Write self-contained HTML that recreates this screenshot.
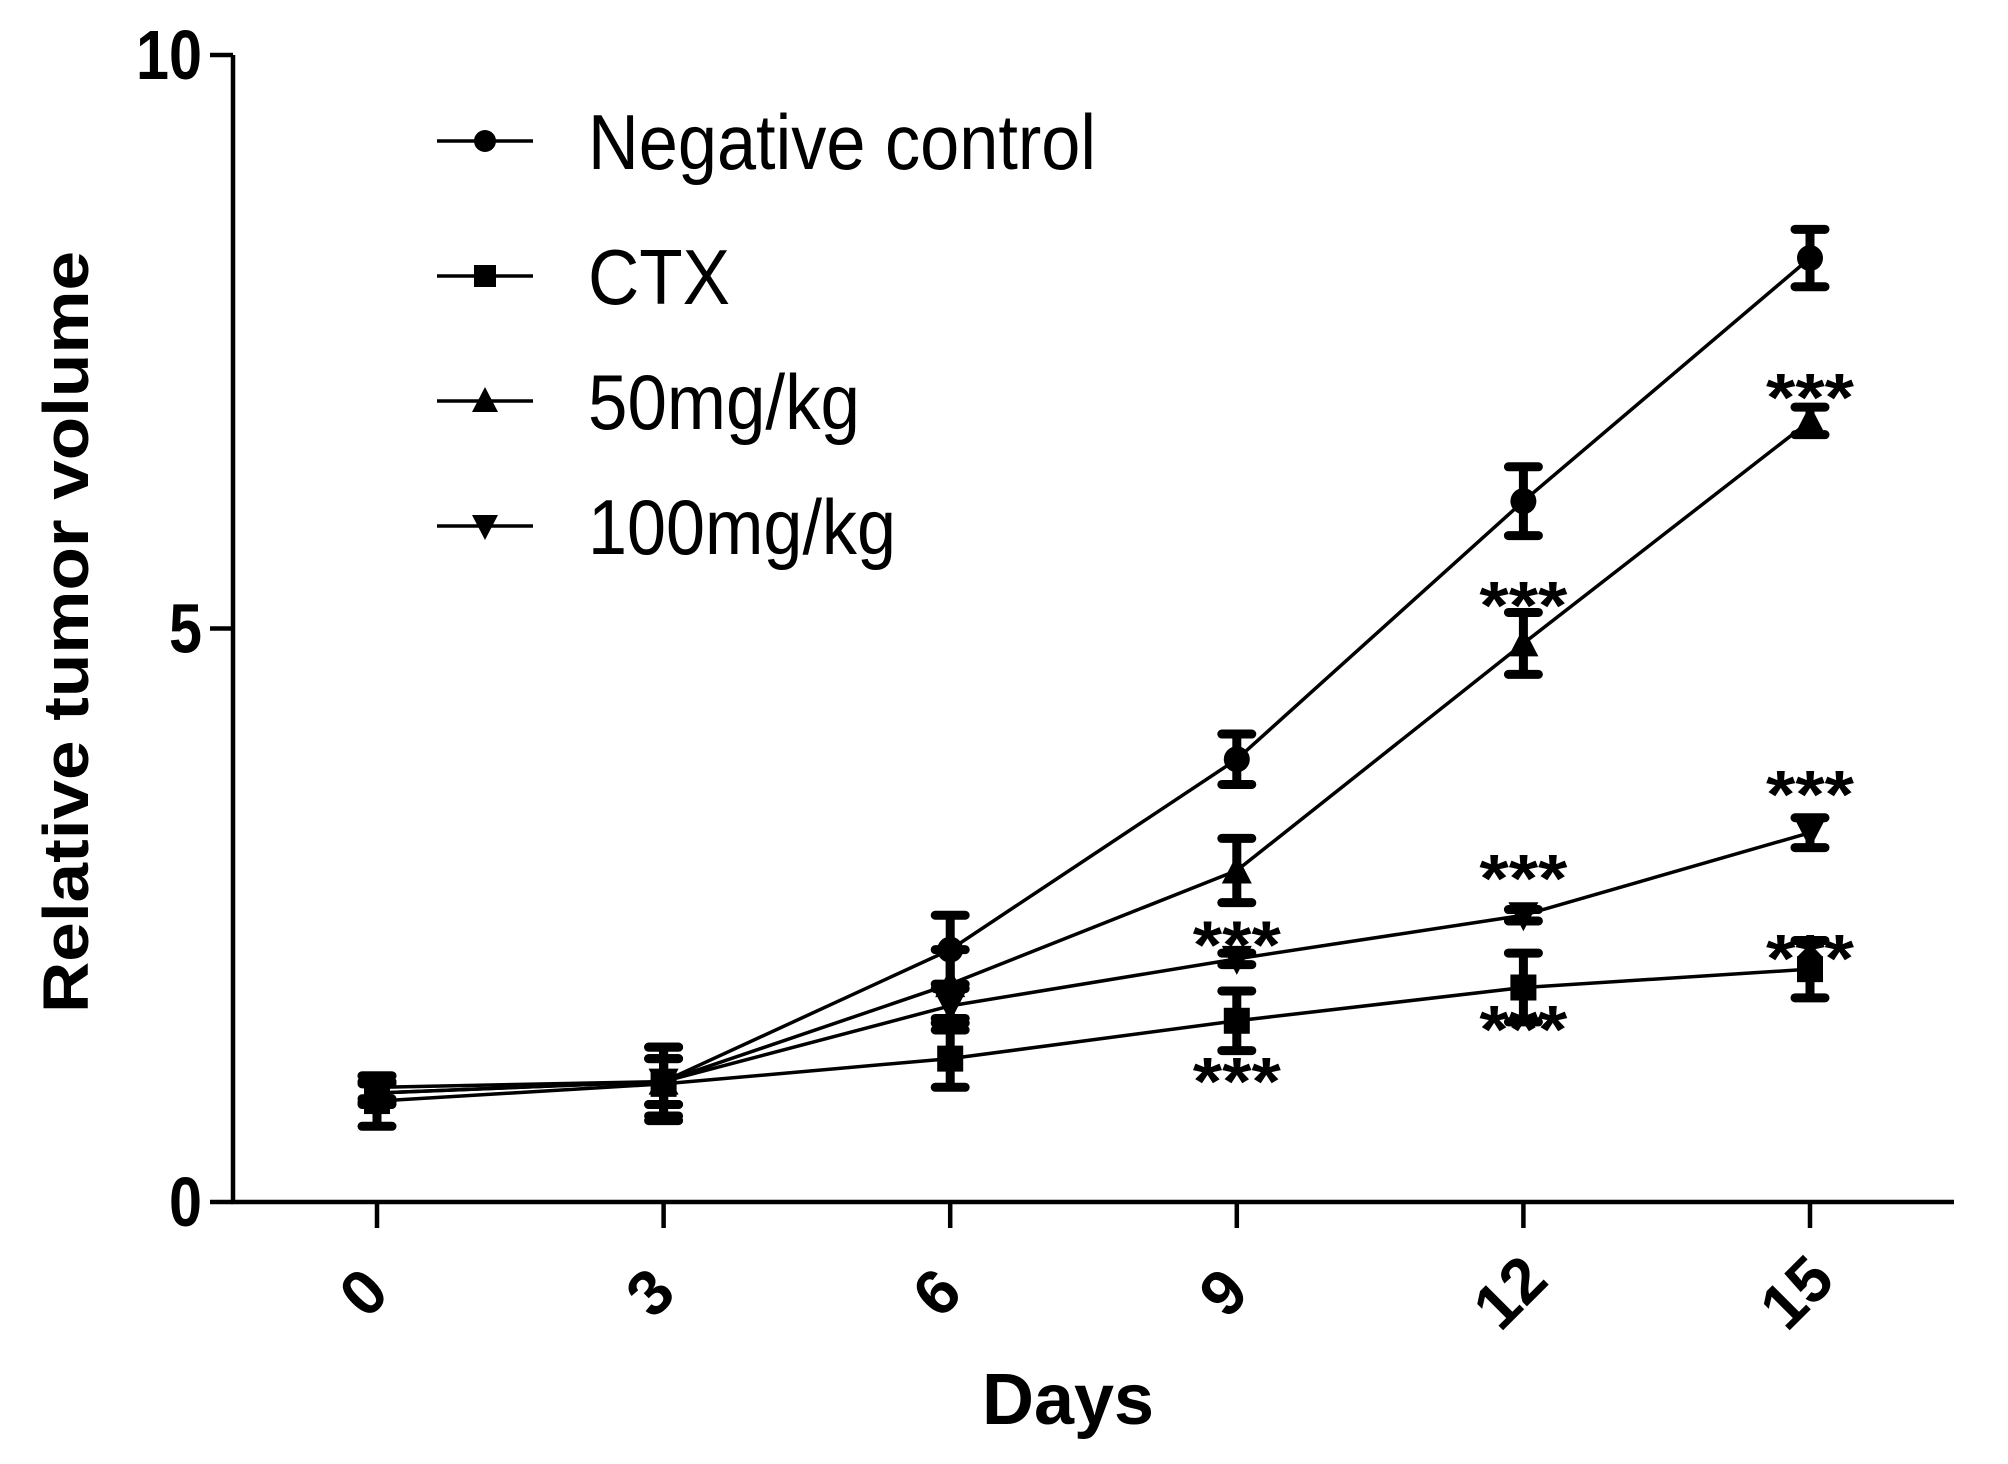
<!DOCTYPE html>
<html><head><meta charset="utf-8">
<style>
html,body{margin:0;padding:0;background:#fff;}
svg{display:block;font-family:"Liberation Sans",Arial,sans-serif;}
</style></head>
<body>
<svg id="chart" width="2008" height="1464" viewBox="0 0 2008 1464" xmlns="http://www.w3.org/2000/svg">
<g id="axes"></g>
<g id="series"></g>
<g id="legend"></g>
<text x="0" y="0" transform="translate(88,632) rotate(-90)" text-anchor="middle" font-size="64" font-weight="bold" textLength="762" lengthAdjust="spacingAndGlyphs">Relative tumor volume</text>
<text x="1068" y="1424" text-anchor="middle" font-size="72" font-weight="bold" textLength="172" lengthAdjust="spacingAndGlyphs">Days</text>
</svg>
<script>
const days = [0, 3, 6, 9, 12, 15];
const xTickLabels = ["0", "3", "6", "9", "12", "15"];
const yTickValues = [0, 5, 10];
const yTickLabels = ["0", "5", "10"];
const seriesNames = ["Negative control", "CTX", "50mg/kg", "100mg/kg"];
const ncMean = [0.95, 1.05, 2.2, 3.86, 6.11, 8.23];
const ncErr = [0.1, 0.3, 0.3, 0.22, 0.3, 0.25];
const ctxMean = [0.88, 1.03, 1.25, 1.58, 1.87, 2.03];
const ctxErr = [0.22, 0.32, 0.25, 0.26, 0.3, 0.25];
const mg50Mean = [1.0, 1.05, 1.9, 2.89, 4.87, 6.81];
const mg50Err = [0.1, 0.2, 0.3, 0.28, 0.27, 0.12];
const mg100Mean = [0.95, 1.05, 1.71, 2.12, 2.5, 3.22];
const mg100Err = [0.08, 0.2, 0.15, 0.05, 0.05, 0.13];
const starSeries = ["50mg/kg", "50mg/kg", "100mg/kg", "100mg/kg", "100mg/kg", "CTX", "CTX", "CTX"];
const starDays = [15, 12, 15, 12, 9, 15, 12, 9];
const starValues = [7.16, 5.35, 3.70, 2.97, 2.39, 2.27, 1.65, 1.20];

const NS = "http://www.w3.org/2000/svg";
const X0 = 377, XSTEP = 286.6 / 3, Y0 = 1202, YUNIT = 114.7;
const AXL = 233, AXR = 1954;
function xs(d){ return X0 + d * XSTEP; }
function ys(v){ return Y0 - v * YUNIT; }
function mk(tag, attrs, parent){
  const e = document.createElementNS(NS, tag);
  for (const k in attrs) e.setAttribute(k, attrs[k]);
  parent.appendChild(e);
  return e;
}
const axes = document.getElementById("axes");
const yAxis = mk("line", {x1:AXL, y1:ys(10), x2:AXL, y2:Y0, stroke:"#000", "stroke-width":4.5}, axes);


const xAxis = mk("line", {x1:AXL-2, y1:Y0, x2:AXR, y2:Y0, stroke:"#000", "stroke-width":4.5}, axes);


yTickValues.forEach((v, i) => {
  const t = mk("line", {x1:AXL-23, y1:ys(v), x2:AXL, y2:ys(v), stroke:"#000", "stroke-width":4.5}, axes);
  
  
  const l = mk("text", {x:202, y:ys(v)+24, "text-anchor":"end", "font-size":70, "font-weight":"bold", textLength:(yTickLabels[i].length*33), lengthAdjust:"spacingAndGlyphs"}, axes);
  l.textContent = yTickLabels[i];
  
  
});
days.forEach((d, i) => {
  const t = mk("line", {x1:xs(d), y1:Y0, x2:xs(d), y2:Y0+26, stroke:"#000", "stroke-width":4.5}, axes);
  
  
  const l = mk("text", {x:0, y:0, "text-anchor":"middle", "font-size":64, "font-weight":"bold",
    transform:"translate(" + (xs(d)+2) + "," + (Y0+106) + ") rotate(-45)"}, axes);
  l.textContent = xTickLabels[i];
  
  
});

function marker(type, cx, cy, parent, r){
  r = r || 13;
  if (type === "circle") return mk("circle", {cx:cx, cy:cy, r:r, fill:"#000"}, parent);
  if (type === "square") return mk("rect", {x:cx-r, y:cy-r, width:2*r, height:2*r, fill:"#000"}, parent);
  if (type === "up") return mk("polygon", {points:(cx)+","+(cy-r-3)+" "+(cx+r+2)+","+(cy+r)+" "+(cx-r-2)+","+(cy+r), fill:"#000"}, parent);
  return mk("polygon", {points:(cx)+","+(cy+r+3)+" "+(cx+r+2)+","+(cy-r)+" "+(cx-r-2)+","+(cy-r), fill:"#000"}, parent);
}
const seriesG = document.getElementById("series");
const allSeries = [
  {name:"negative-control", m:ncMean, e:ncErr, mk:"circle"},
  {name:"ctx", m:ctxMean, e:ctxErr, mk:"square"},
  {name:"50mg-kg", m:mg50Mean, e:mg50Err, mk:"up"},
  {name:"100mg-kg", m:mg100Mean, e:mg100Err, mk:"down"}
];
allSeries.forEach(s => {
  const g = mk("g", {}, seriesG);
  
  
  const pts = days.map((d, i) => xs(d) + "," + ys(s.m[i])).join(" ");
  const pl = mk("polyline", {points:pts, fill:"none", stroke:"#000", "stroke-width":3.5}, g);
  
  
  days.forEach((d, i) => {
    const x = xs(d), yt = ys(s.m[i] + s.e[i]), yb = ys(s.m[i] - s.e[i]);
    const eb = mk("path", {d:"M"+x+","+yt+"V"+yb+"M"+(x-15)+","+yt+"H"+(x+15)+"M"+(x-15)+","+yb+"H"+(x+15),
      stroke:"#000", "stroke-width":9, "stroke-linecap":"round", fill:"none"}, g);
    
    
    const p = marker(s.mk, x, ys(s.m[i]), g);
    
    
  });
});
starDays.forEach((d, i) => {
  const t = mk("text", {x:xs(d), y:ys(starValues[i]) + 40, "text-anchor":"middle", "font-size":68, "font-weight":"bold", textLength:88, lengthAdjust:"spacingAndGlyphs"}, seriesG);
  t.textContent = "***";
  
  
});

const legend = document.getElementById("legend");
const legendMarkers = ["circle", "square", "up", "down"];
const legendRowsY = [141, 276, 401, 526];
const legendWidths = [508, 142, 272, 308];
seriesNames.forEach((n, i) => {
  const g = mk("g", {}, legend);
  
  
  const y = legendRowsY[i];
  mk("line", {x1:437, y1:y, x2:533, y2:y, stroke:"#000", "stroke-width":3.5}, g);
  marker(legendMarkers[i], 485, y, g, 11);
  const t = mk("text", {x:588, y:y+28, "font-size":78, textLength:legendWidths[i], lengthAdjust:"spacingAndGlyphs"}, g);
  t.textContent = n;
  
  
});
</script>
</body></html>
